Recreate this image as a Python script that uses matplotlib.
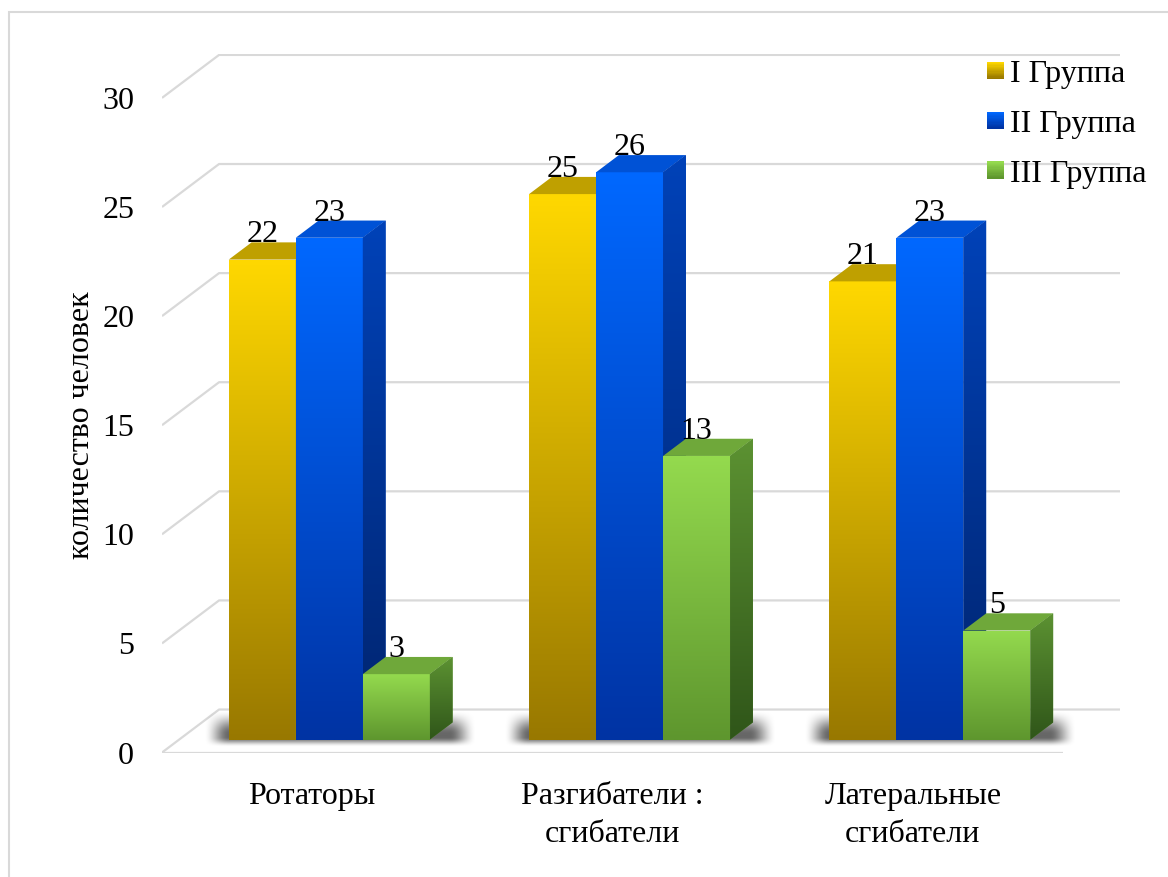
import numpy as np
import matplotlib
matplotlib.use("Agg")
import matplotlib.pyplot as plt
from matplotlib.patches import Polygon, Rectangle
from matplotlib.colors import to_rgb
from matplotlib.legend_handler import HandlerBase

# ---- data -------------------------------------------------------------
categories = ["Ротаторы", "Разгибатели :\nсгибатели", "Латеральные\nсгибатели"]
series_names = ["I Группа", "II Группа", "III Группа"]
group_1 = [22, 25, 21]
group_2 = [23, 26, 23]
group_3 = [3, 13, 5]
y_ticks = [0, 5, 10, 15, 20, 25, 30]
y_label = "количество человек"

series_values = [group_1, group_2, group_3]

# colours per series: front gradient (top, bottom), top face, side gradient
palettes = [
    dict(front=("#FFD800", "#987800"), top="#BFA000", side=("#A58A00", "#6A5500")),
    dict(front=("#0068FF", "#0033A3"), top="#0052D6", side=("#0042B8", "#00246E")),
    dict(front=("#94DA4E", "#5E962E"), top="#6FA83A", side=("#5C9232", "#2F5519")),
]

plt.rcParams["font.family"] = ["Liberation Serif", "DejaVu Serif"]
FS = 23

W, H = 1168, 877
fig = plt.figure(figsize=(W / 100, H / 100), dpi=100)

# plot area (front floor edge at the bottom of the axes)
x_left_px, x_right_px = 162, 1120
y_floor_px = 752.5
px_per_unit = 21.82
XMIN, XMAX = -0.5, 2.69
YMIN, YMAX = 0, 32
ax = fig.add_axes([x_left_px / W, (H - y_floor_px) / H,
                   (x_right_px - x_left_px) / W,
                   (YMAX - YMIN) * px_per_unit / H])

# oblique depth offset of the back wall (category units, value units)
DX, DY = 0.19, 1.97
D_FRONT, D_BACK = 0.3, 0.7          # depth range occupied by the bars
BAR_W = 0.2231

# ---- walls / gridlines -------------------------------------------------
grid_kw = dict(color="#D9D9D9", lw=1.6, solid_capstyle="butt", zorder=1)
for t in y_ticks:
    ax.plot([-0.5, -0.5 + DX, 2.5 + DX], [t, t + DY, t + DY], **grid_kw)
ax.plot([-0.5, 2.5], [0, 0], **grid_kw)


def shade(patch, extent, c_top, c_bottom, z):
    top = np.array(to_rgb(c_top))
    bot = np.array(to_rgb(c_bottom))
    t = np.linspace(0, 1, 256)[:, None]
    img = (top * (1 - t) + bot * t)[:, None, :]
    im = ax.imshow(img, extent=extent, origin="upper", aspect="auto",
                   interpolation="bilinear", zorder=z)
    im.set_clip_path(patch)


# ---- soft floor shadows under each group --------------------------------
def smooth(v):
    v = np.clip(v, 0, 1)
    return v * v * (3 - 2 * v)


for i in range(len(categories)):
    xl = i + D_FRONT * DX - 1.5 * BAR_W
    xr = i + D_FRONT * DX + 1.5 * BAR_W + (D_BACK - D_FRONT) * DX
    ex = (xl - 0.12, xr + 0.14, 0.0, 2.2)
    xs = np.linspace(ex[0], ex[1], 300)
    ys = np.linspace(ex[3], ex[2], 120)
    X, Y = np.meshgrid(xs, ys)
    sx = smooth((X - (xl - 0.085)) / 0.085) * smooth(((xr + 0.08) - X) / 0.09)
    sy = smooth((Y - 0.22) / 0.45) * smooth((1.9 - Y) / 1.1)
    rgba = np.zeros(X.shape + (4,))
    rgba[..., 3] = 0.6 * sx * sy
    ax.imshow(rgba, extent=ex, origin="upper", aspect="auto",
              interpolation="bilinear", zorder=2)

# ---- bars ---------------------------------------------------------------
for j, (vals, pal) in enumerate(zip(series_values, palettes)):
    lefts = [i + D_FRONT * DX - 1.5 * BAR_W + j * BAR_W for i in range(len(vals))]
    bars = ax.bar(lefts, vals, width=BAR_W, bottom=D_FRONT * DY, align="edge",
                  color=pal["front"][0], lw=0, zorder=3 + j)
    ddx, ddy = (D_BACK - D_FRONT) * DX, (D_BACK - D_FRONT) * DY
    for bar, v in zip(bars, vals):
        x0, y0 = bar.get_x(), bar.get_y()
        x1, y1 = x0 + bar.get_width(), y0 + bar.get_height()
        shade(bar, (x0, x1, y0, y1), pal["front"][0], pal["front"][1], 3 + j)
        top = Polygon([(x0, y1), (x1, y1), (x1 + ddx, y1 + ddy), (x0 + ddx, y1 + ddy)],
                      closed=True, fc=pal["top"], lw=0, zorder=3 + j)
        ax.add_patch(top)
        side = Polygon([(x1, y0), (x1 + ddx, y0 + ddy), (x1 + ddx, y1 + ddy), (x1, y1)],
                       closed=True, fc=pal["side"][0], lw=0, zorder=3 + j)
        ax.add_patch(side)
        shade(side, (x1, x1 + ddx, y0, y1 + ddy), pal["side"][0], pal["side"][1], 3 + j)
        ax.text((x0 + x1) / 2, v + D_BACK * DY, f"{v}", ha="center", va="baseline",
                fontsize=FS, color="black", zorder=20)

# ---- axes cosmetics -------------------------------------------------------
ax.set_xlim(XMIN, XMAX)
ax.set_ylim(YMIN, YMAX)
for s in ax.spines.values():
    s.set_visible(False)
ax.set_yticks(y_ticks)
ax.set_yticklabels([str(t) for t in y_ticks], fontsize=FS)
ax.set_xticks(range(len(categories)))
ax.set_xticklabels(categories, fontsize=FS, linespacing=1.42)
ax.tick_params(axis="y", length=0, pad=20)
ax.tick_params(axis="x", length=0, pad=21)
ax.set_facecolor("none")

ax.text((89 - x_left_px) / (x_right_px - x_left_px), 15 / YMAX, y_label,
        transform=ax.transAxes, rotation=90, rotation_mode="anchor",
        ha="center", va="baseline", fontsize=FS)


# ---- legend with gradient swatches ---------------------------------------
class GradientSwatch(HandlerBase):
    def __init__(self, c_top, c_bottom, steps=14):
        super().__init__()
        self.c_top = np.array(to_rgb(c_top))
        self.c_bottom = np.array(to_rgb(c_bottom))
        self.steps = steps

    def create_artists(self, legend, orig_handle, xdescent, ydescent,
                       width, height, fontsize, trans):
        out = []
        side = min(width, height)
        x0 = -xdescent
        y0 = -ydescent + (height - side) / 2
        for k in range(self.steps):
            f = k / (self.steps - 1)
            c = self.c_top * (1 - f) + self.c_bottom * f
            r = Rectangle((x0, y0 + side * (1 - (k + 1) / self.steps)), side,
                          side / self.steps + 0.3, fc=c, ec="none", lw=0, transform=trans)
            out.append(r)
        return out


handles = [Rectangle((0, 0), 1, 1, label=n) for n in series_names]
handler_map = {h: GradientSwatch(*pal["front"]) for h, pal in zip(handles, palettes)}
fig.legend(handles=handles, labels=series_names, handler_map=handler_map,
           loc="upper left", bbox_to_anchor=(987 / W, 1 - 60 / H),
           bbox_transform=fig.transFigure, frameon=False, fontsize=FS,
           handlelength=0.53, handleheight=0.53, handletextpad=0.2,
           labelspacing=0.65, borderpad=0, borderaxespad=0)

# outer chart border
fig.patches.append(Rectangle((9 / W, -0.05), 1.2, 1 - 12 / H + 0.05,
                             transform=fig.transFigure, fill=False,
                             ec="#D9D9D9", lw=1.5))

fig.savefig("out.png", dpi=100, facecolor="white")
